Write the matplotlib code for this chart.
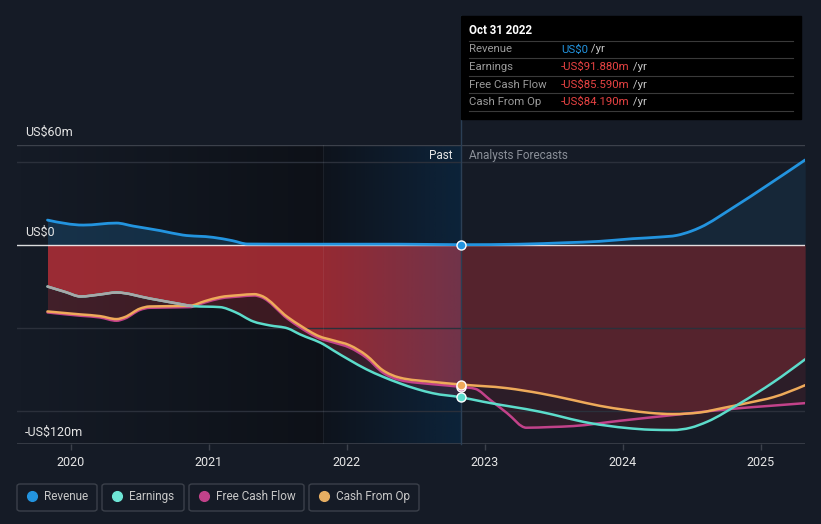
import numpy as np
import matplotlib.pyplot as plt
from matplotlib.patches import Rectangle, FancyBboxPatch, PathPatch
from matplotlib.path import Path
from matplotlib.lines import Line2D
from matplotlib.text import Annotation

plt.rcParams['font.family'] = ['Roboto', 'DejaVu Sans']

W, H = 821, 524
BG = '#151b26'
BLUE = '#2394df'
TEAL = '#5cdccb'
MAGENTA = '#c2428a'
ORANGE = '#eeaa5a'
GREY = '#a8a8a8'
RED = '#c8323a'

# ---- data (US$m, x in decimal years) ----
now = 2022.826          # Oct 31 2022
hl_start = 2021.826     # start of highlighted last-year band

rev_x_past = [2019.83, 2020.09, 2020.33, 2020.45, 2020.65, 2020.81, 2021.03, 2021.17, 2021.28, 2021.66, 2022.38, 2022.826]
rev_past = [14.8, 11.8, 13.0, 11.2, 8.4, 5.8, 4.4, 2.4, 0.4, 0.3, 0.3, 0.0]
rev_x_fc = [2022.826, 2023.25, 2023.59, 2023.83, 2024.07, 2024.27, 2024.39, 2024.49, 2024.56, 2024.80, 2025.04, 2025.32]
rev_fc = [0.0, 0.3, 1.2, 2.0, 3.6, 4.6, 5.6, 8.0, 10.4, 22.4, 35.4, 51.0]

earn_x_past = [2019.83, 2019.96, 2020.07, 2020.21, 2020.33, 2020.57, 2020.81, 2020.88, 2021.08, 2021.19, 2021.32,
               2021.44, 2021.57, 2021.66, 2021.83, 2021.90, 2022.02, 2022.14, 2022.26, 2022.38, 2022.51, 2022.62, 2022.826]
earn_past = [-25.2, -28.5, -31.2, -30.0, -28.8, -32.4, -36.0, -37.0, -37.6, -40.6, -46.2,
             -48.6, -50.4, -54.0, -60.0, -63.6, -69.5, -75.0, -79.5, -83.4, -87.0, -89.4, -91.88]
earn_x_fc = [2022.826, 2022.99, 2023.40, 2023.76, 2024.03, 2024.20, 2024.36, 2024.49, 2024.61, 2024.85, 2025.09, 2025.32]
earn_fc = [-91.88, -94.6, -100.6, -107.4, -110.4, -111.4, -111.6, -110.2, -106.6, -95.4, -82.8, -69.0]

cfo_x_past = [2019.83, 2020.07, 2020.21, 2020.33, 2020.39, 2020.50, 2020.57, 2020.86, 2020.97, 2021.08, 2021.22, 2021.33,
              2021.38, 2021.57, 2021.66, 2021.80, 2021.90, 2022.02, 2022.14, 2022.26, 2022.38, 2022.62, 2022.826]
cfo_past = [-40.2, -42.0, -43.0, -44.8, -43.6, -38.5, -37.2, -36.8, -34.0, -31.6, -30.4, -29.8,
            -30.8, -43.6, -48.6, -55.2, -57.6, -60.6, -66.6, -75.6, -80.0, -82.6, -84.19]
cfo_x_fc = [2022.826, 2023.16, 2023.40, 2023.64, 2023.83, 2024.03, 2024.20, 2024.36, 2024.56, 2024.72, 2024.92, 2025.09, 2025.32]
cfo_fc = [-84.19, -86.4, -89.5, -93.6, -97.0, -99.6, -101.3, -102.0, -101.0, -98.4, -95.0, -91.8, -84.6]

fcf_x_past = cfo_x_past
fcf_past = [-40.8, -42.8, -43.8, -45.8, -44.5, -39.3, -38.0, -37.6, -34.8, -32.4, -31.2, -30.6,
            -31.6, -44.6, -49.8, -56.4, -58.8, -62.0, -68.0, -77.0, -81.4, -84.0, -85.59]
fcf_x_fc = [2022.826, 2022.93, 2023.04, 2023.16, 2023.30, 2023.47, 2023.64, 2023.98, 2024.36, 2024.85, 2025.07, 2025.32]
fcf_fc = [-85.59, -86.8, -93.6, -101.4, -110.2, -109.8, -109.2, -106.0, -102.6, -98.4, -97.0, -95.4]

years = [2020, 2021, 2022, 2023, 2024, 2025]
xmin, xmax = 2019.609, 2025.319


def join(xp, yp, xf, yf):
    return np.array(xp + xf[1:]), np.array(yp + yf[1:])


def tangents(x, y):
    # monotone cubic slopes (same idea as d3 curveMonotoneX)
    h = np.diff(x)
    s = np.diff(y) / h
    m = np.zeros(len(x))
    for i in range(1, len(x) - 1):
        p = (s[i - 1] * h[i] + s[i] * h[i - 1]) / (h[i - 1] + h[i])
        m[i] = (np.sign(s[i - 1]) + np.sign(s[i])) * min(abs(s[i - 1]), abs(s[i]), 0.5 * abs(p))
    m[0] = (3 * s[0] - m[1]) / 2
    m[-1] = (3 * s[-1] - m[-2]) / 2
    return m


def curve(x, y):
    m = tangents(x, y)
    verts = [(x[0], y[0])]
    codes = [Path.MOVETO]
    for i in range(len(x) - 1):
        d = (x[i + 1] - x[i]) / 3
        verts += [(x[i] + d, y[i] + m[i] * d), (x[i + 1] - d, y[i + 1] - m[i + 1] * d), (x[i + 1], y[i + 1])]
        codes += [Path.CURVE4] * 3
    return Path(verts, codes)


def sample(x, y, g):
    m = tangents(x, y)
    i = np.clip(np.searchsorted(x, g) - 1, 0, len(x) - 2)
    h = x[i + 1] - x[i]
    t = (g - x[i]) / h
    h00 = 2 * t**3 - 3 * t**2 + 1
    h10 = t**3 - 2 * t**2 + t
    h01 = -2 * t**3 + 3 * t**2
    h11 = t**3 - t**2
    return h00 * y[i] + h10 * h * m[i] + h01 * y[i + 1] + h11 * h * m[i + 1]


def draw(x, y, color, lw, z):
    ax.add_patch(PathPatch(curve(np.asarray(x), np.asarray(y)), fc='none', ec=color, lw=lw, zorder=z,
                           capstyle='round', joinstyle='round'))


rev_x, rev = join(rev_x_past, rev_past, rev_x_fc, rev_fc)
earn_x, earn = join(earn_x_past, earn_past, earn_x_fc, earn_fc)
cfo_x, cfo = join(cfo_x_past, cfo_past, cfo_x_fc, cfo_fc)
fcf_x, fcf = join(fcf_x_past, fcf_past, fcf_x_fc, fcf_fc)

fig = plt.figure(figsize=(W / 100, H / 100), dpi=100, facecolor=BG)
ax = fig.add_axes([17 / W, 1 - 444 / H, (805 - 17) / W, (444 - 145) / H])
ax.set_facecolor(BG)

# background shading
dark = np.zeros((1, 256, 4))
dark[..., 3] = np.linspace(0.0, 0.38, 256)
ax.imshow(dark, extent=[xmin, hl_start, -120, 60], aspect='auto', zorder=0.5)
ax.add_patch(Rectangle((hl_start, -120), now - hl_start, 180, color='black', alpha=0.3, lw=0, zorder=0.5))

# red fills between zero and the loss lines
grid = np.linspace(earn_x[0], earn_x[-1], 1200)
stack = np.vstack([sample(earn_x, earn, grid), sample(cfo_x, cfo, grid), sample(fcf_x, fcf, grid)])
upper = stack.max(axis=0)
lower = stack.min(axis=0)
past = grid <= now + 1e-9
fut = grid >= now - 1e-9
ax.fill_between(grid[past], 0, upper[past], color=RED, alpha=0.75, lw=0, zorder=1)
ax.fill_between(grid[past], upper[past], lower[past], color=RED, alpha=0.25, lw=0, zorder=1)
ax.fill_between(grid[fut], 0, upper[fut], color=RED, alpha=0.36, lw=0, zorder=1)
ax.fill_between(grid[fut], upper[fut], lower[fut], color=RED, alpha=0.13, lw=0, zorder=1)

# revenue fill
rg = np.linspace(rev_x[0], rev_x[-1], 1200)
rv = sample(rev_x, rev, rg)
ax.fill_between(rg[rg <= now], 0, rv[rg <= now], color=BLUE, alpha=0.2, lw=0, zorder=1)
ax.fill_between(rg[rg >= now], 0, rv[rg >= now], color=BLUE, alpha=0.1, lw=0, zorder=1)

# blue highlight gradient on top of fills
blue = np.zeros((1, 256, 4))
blue[..., 0] = 10 / 255
blue[..., 1] = 80 / 255
blue[..., 2] = 140 / 255
blue[..., 3] = np.linspace(0.02, 0.28, 256)
ax.imshow(blue, extent=[hl_start, now, -120, 60], aspect='auto', zorder=2)

# grid lines
for g in [50, -50, -100]:
    ax.axhline(g, color='#2b303b', lw=1, zorder=2.2)
ax.axhline(60, color='#3c414b', lw=1, zorder=2.2)
ax.axhline(-120, color='#3c414b', lw=1.2, zorder=2.2)
ax.axhline(0, color='white', lw=1, alpha=0.85, zorder=2.5)
ax.axvline(hl_start, color='white', alpha=0.06, lw=0.8, zorder=2.2)
ax.plot([now, now], [-120, 137.4], color='#2b3f55', lw=1, zorder=2.3, clip_on=False)

# lines
draw(rev_x, rev, BLUE, 2.0, 3)
draw(fcf_x, fcf, MAGENTA, 1.8, 3.0)
draw(cfo_x, cfo, ORANGE, 1.8, 3.1)
draw(earn_x, earn, TEAL, 1.8, 3.2)
draw(earn_x_past[:8], earn_past[:8], GREY, 1.8, 3.3)

# markers at the latest reported point
for val, col in [(fcf_past[-1], MAGENTA), (cfo_past[-1], ORANGE), (earn_past[-1], TEAL), (rev_past[-1], BLUE)]:
    ax.plot(now, val, 'o', ms=6.5, mfc=col, mec='white', mew=1, zorder=5, clip_on=False)

ax.set_xlim(xmin, xmax)
ax.set_ylim(-120, 60)
for s in ax.spines.values():
    s.set_visible(False)
ax.set_yticks([])
ax.set_xticks(years)
ax.set_xticklabels([str(y) for y in years])
ax.tick_params(axis='x', colors='#3c414b', length=4, width=1, pad=5, labelsize=9, labelcolor='#e6e6e6')

# y labels
ax.text(2019.665, 67.8, 'US$60m', color='#e6e6e6', fontsize=9, va='center', clip_on=False)
ax.text(2019.665, 7.2, 'US$0', color='#e6e6e6', fontsize=9, va='center', clip_on=False)
ax.text(2019.665, -112.8, '-US$120m', color='#e6e6e6', fontsize=9, va='center', clip_on=False)

ax.text(now - 0.058, 53.4, 'Past', color='#e6e6e6', fontsize=8.5, ha='right', va='center')
ax.text(now + 0.058, 53.4, 'Analysts Forecasts', color='#8a8f98', fontsize=8.5, ha='left', va='center')


def fx(px):
    return px / W


def fy(py):
    return 1 - py / H


# tooltip
fig.patches.append(Rectangle((fx(461), fy(119)), 340 / W, 103 / H, color='black', transform=fig.transFigure, zorder=10))
fig.text(fx(469), fy(31), 'Oct 31 2022', color='white', fontsize=8.3, fontweight='bold', va='center', zorder=11)
for py in [41, 58, 76, 93, 111]:
    fig.lines.append(Line2D([fx(469), fx(793)], [fy(py), fy(py)], color='#3a3a3a', lw=0.8, transform=fig.transFigure, zorder=11))
rows = [('Revenue', 'US$0', BLUE), ('Earnings', '-US$91.880m', '#e84343'),
        ('Free Cash Flow', '-US$85.590m', '#e84343'), ('Cash From Op', '-US$84.190m', '#e84343')]
for i, (lab, val, col) in enumerate(rows):
    py = 49.5 + i * 17.5
    fig.text(fx(469), fy(py), lab, color='#9a9a9a', fontsize=8.2, va='center', zorder=11)
    t = fig.text(fx(561), fy(py), val, color=col, fontsize=8.2, va='center', zorder=11)
    fig.add_artist(Annotation(' /yr', xy=(1, 0.5), xycoords=t, va='center', ha='left',
                              color='#c8c8c8', fontsize=8.2, zorder=11))

# legend
legend = [('Revenue', BLUE, 17, 97), ('Earnings', '#6ee6d6', 102, 184),
          ('Free Cash Flow', MAGENTA, 189, 304), ('Cash From Op', '#e6ae62', 309, 419)]
for lab, col, x0, x1 in legend:
    fig.patches.append(FancyBboxPatch((fx(x0), fy(511)), (x1 - x0) / W, 27 / H,
                                      boxstyle='round,pad=0,rounding_size=0.004', fc='none', ec='#3b404a',
                                      lw=1, transform=fig.transFigure))
    fig.lines.append(Line2D([fx(x0 + 15)], [fy(496)], marker='o', ms=7, color=col, transform=fig.transFigure))
    fig.text(fx(x0 + 27), fy(496.5), lab, color='#c8c8c8', fontsize=8.5, va='center')

fig.savefig('out.png', dpi=100, facecolor=BG)
